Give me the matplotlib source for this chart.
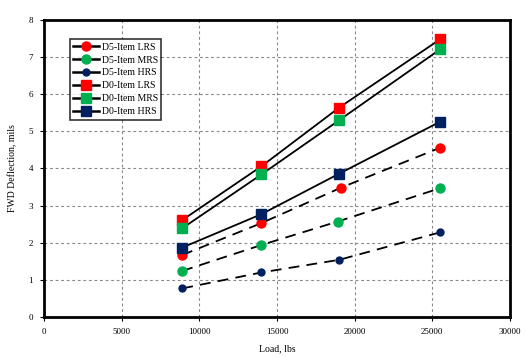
import matplotlib
matplotlib.use("Agg")
import matplotlib.pyplot as plt

loads_x = [8900, 14000, 19000, 25500]
d5_lrs_x = [8900, 14000, 19100, 25500]
d5_mrs_x = [8900, 14000, 18900, 25500]
d5_hrs_x = [8900, 14000, 19000, 25500]

d5_lrs = [1.67, 2.53, 3.48, 4.56]
d5_mrs = [1.24, 1.94, 2.57, 3.47]
d5_hrs = [0.77, 1.20, 1.54, 2.28]
d0_lrs = [2.61, 4.06, 5.64, 7.48]
d0_mrs = [2.39, 3.84, 5.30, 7.21]
d0_hrs = [1.87, 2.77, 3.86, 5.26]

x_ticks = [0, 5000, 10000, 15000, 20000, 25000, 30000]
y_ticks = [0, 1, 2, 3, 4, 5, 6, 7, 8]

red = "#FF0000"
green = "#00B050"
navy = "#002060"

plt.rcParams['font.family'] = ['Liberation Serif', 'DejaVu Serif']

fig = plt.figure(figsize=(5.26, 3.57), dpi=100)
ax = fig.add_axes([44/526, 1-317/357, (510-44)/526, (317-20)/357])

series = [
    ("D5-Item LRS", d5_lrs_x, d5_lrs, red, "o", (0, (6, 4))),
    ("D5-Item MRS", d5_mrs_x, d5_mrs, green, "o", (0, (6, 4))),
    ("D5-Item HRS", d5_hrs_x, d5_hrs, navy, "o", (0, (6, 4))),
    ("D0-Item LRS", loads_x, d0_lrs, red, "s", "-"),
    ("D0-Item MRS", loads_x, d0_mrs, green, "s", "-"),
    ("D0-Item HRS", loads_x, d0_hrs, navy, "s", "-"),
]
handles = []
for label, xs, ys, c, m, ls in series:
    ax.plot(xs, ys, color="black", linestyle=ls, linewidth=1.3, zorder=2)
    ms = 6.5 if m == "o" else 7
    if label == "D5-Item HRS":
        ms = 5
    ax.plot(xs, ys, linestyle="none", marker=m, markersize=ms, color=c, zorder=3)
    h, = ax.plot([], [], color="black", linestyle="-", linewidth=1.8,
                 marker=m, markersize=ms, markerfacecolor=c, markeredgecolor=c,
                 label=label)
    handles.append(h)

ax.set_xlim(0, 30000)
ax.set_ylim(0, 8)
ax.set_xticks(x_ticks)
ax.set_yticks(y_ticks)
ax.tick_params(labelsize=6.5, length=3, width=0.8, pad=5)
ax.grid(True, color="#888888", linestyle=(0, (2.5, 2.5)), linewidth=0.8)
ax.set_axisbelow(True)
for s in ax.spines.values():
    s.set_linewidth(2)
ax.set_xlabel("Load, lbs", fontsize=7, labelpad=6)
ax.set_ylabel("FWD Deflection, mils", fontsize=7, labelpad=8)

leg = ax.legend(handles=handles, loc="upper left", bbox_to_anchor=(0.056, 0.935),
                fontsize=7, frameon=True, fancybox=False, handlelength=2.6,
                handletextpad=0.3, borderpad=0.35, labelspacing=0.4,
                edgecolor="black", borderaxespad=0)
leg.get_frame().set_linewidth(1.2)

fig.savefig("out.png", dpi=100)
